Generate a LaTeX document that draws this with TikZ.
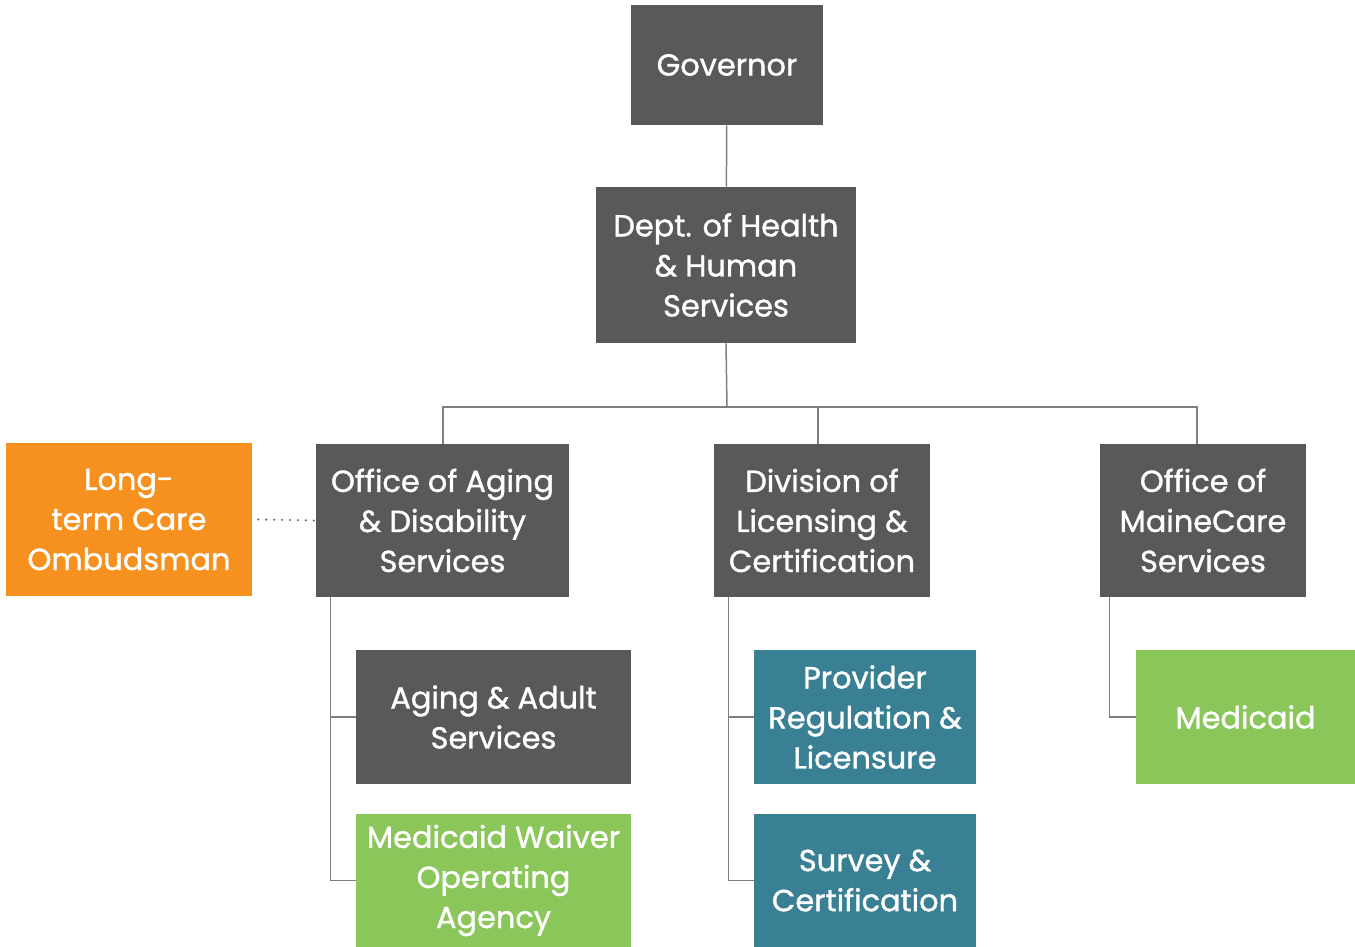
\documentclass[tikz,border=0pt]{standalone}
\usepackage{fontspec}
\setmainfont{Poppins}
\newfontfamily\unitfont{Poppins}[FakeBold = 1.2]
\definecolor{boxgray}{HTML}{58595B}
\definecolor{boxorange}{HTML}{F6901E}
\definecolor{boxgreen}{HTML}{8AC659}
\definecolor{boxteal}{HTML}{3A8094}
\definecolor{linegray}{HTML}{7F7F7F}
\tikzset{
	unit/.style = {fill = boxgray, text = white, align = center, inner sep = 0pt,
		font = \unitfont\fontsize{17.3}{22.8}\selectfont},
	link/.style = {draw = linegray, line width = 0.85pt}
}

\begin{document}
\begin{tikzpicture}
	\useasboundingbox (0, 0) rectangle (27.1, 18.94);
	
	\node[unit, minimum width = 3.84 cm, minimum height = 2.4 cm] (gov) at (14.54, 17.64) {Governor};
	\node[unit, minimum width = 5.2 cm, minimum height = 3.12 cm] (dhhs) at (14.52, 13.64) {Dept. of Health\\ \& Human\\ Services};
	
	\node[unit, fill = boxorange, minimum width = 4.92 cm, minimum height = 3.06 cm] (ombud) at (2.58, 8.55) {Long-\\ term Care\\ Ombudsman};
	\node[unit, minimum width = 5.06 cm, minimum height = 3.06 cm] (oads) at (8.85, 8.53) {Office of Aging\\ \& Disability\\ Services};
	\node[unit, minimum width = 4.32 cm, minimum height = 3.06 cm] (dlc) at (16.44, 8.53) {Division of\\ Licensing \&\\ Certification};
	\node[unit, minimum width = 4.12 cm, minimum height = 3.06 cm] (oms) at (24.06, 8.53) {Office of\\ MaineCare\\ Services};
	
	\node[unit, minimum width = 5.5 cm, minimum height = 2.68 cm] (aas) at (9.87, 4.6) {Aging \& Adult\\ Services};
	\node[unit, fill = boxgreen, minimum width = 5.5 cm, minimum height = 2.66 cm] (mwoa) at (9.87, 1.33) {Medicaid Waiver\\ Operating\\ Agency};
	\node[unit, fill = boxteal, minimum width = 4.44 cm, minimum height = 2.68 cm] (prl) at (17.3, 4.6) {Provider\\ Regulation \&\\ Licensure};
	\node[unit, fill = boxteal, minimum width = 4.44 cm, minimum height = 2.66 cm] (sc) at (17.3, 1.33) {Survey \&\\ Certification};
	\node[unit, fill = boxgreen, minimum width = 4.38 cm, minimum height = 2.68 cm] (med) at (24.91, 4.6) {Medicaid};
	
	\coordinate (bus) at (14.54, 10.8);
	
	\draw[link] (gov) -- (dhhs);
	\draw[link] (dhhs.south) -- (bus);
	\draw[link] (bus) -| ([xshift = 0.01 cm]oads.north);
	\draw[link] (bus) -| ([xshift = -0.08 cm]dlc.north);
	\draw[link] (bus) -| ([xshift = -0.12 cm]oms.north);
	
	\draw[link] ([xshift = 0.3 cm]oads.south west) |- (aas.west);
	\draw[link] ([xshift = 0.3 cm]oads.south west) |- (mwoa.west);
	\draw[link] ([xshift = 0.3 cm]dlc.south west) |- (prl.west);
	\draw[link] ([xshift = 0.3 cm]dlc.south west) |- (sc.west);
	\draw[link] ([xshift = 0.2 cm]oms.south west) |- (med.west);
	
	\draw[linegray!80!black, line width = 1.3pt, line cap = round, dash pattern = on 0pt off 4.5pt] ([xshift = 0.12 cm]ombud.east) -- (oads.west);
\end{tikzpicture}
\end{document}
